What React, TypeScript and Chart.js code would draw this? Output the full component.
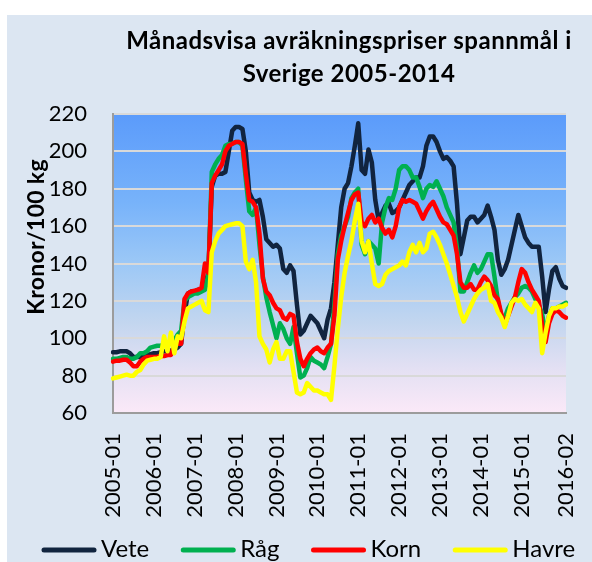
import React, { useEffect, useRef } from "react";
import { Chart, registerables } from "chart.js";

Chart.register(...registerables);

const years = [2005, 2006, 2007, 2008, 2009, 2010, 2011, 2012, 2013, 2014, 2015, 2016];
const months = ["01", "02", "03", "04", "05", "06", "07", "08", "09", "10", "11", "12"];
const labels: string[] = [];
years.forEach((y) => {
  months.forEach((m) => {
    if (y === 2016 && m > "02") return;
    labels.push(`${y}-${m}`);
  });
});

const chartTitle = ["Månadsvisa avräkningspriser spannmål i", "Sverige 2005-2014"];
const yAxisTitle = "Kronor/100 kg";
const yMin = 60;
const yMax = 220;
const yStep = 20;

const seriesNames = ["Vete", "Råg", "Korn", "Havre"];
const seriesColors = ["#11243f", "#00b050", "#ff0000", "#ffff00"];

const vete = [
  92.5, 92.5, 93, 93, 93, 92, 90, 90, 90, 90.5, 91, 91.5,
  92, 92, 92.5, 93, 93, 93.5, 94, 95, 97, 113, 124, 125,
  125, 126, 126, 128, 135, 181, 187, 188, 188, 189, 200, 211,
  213, 213, 212, 200, 178, 174, 173, 174, 165, 153, 151, 149,
  150, 148, 137, 135, 139, 136, 118, 102, 104, 108, 112, 110,
  108, 104, 100, 110, 116, 130, 150, 170, 180, 183, 192, 203,
  215, 190, 188, 201, 194, 174, 163, 167, 171, 172, 167, 168,
  170, 174, 178, 182, 184, 186, 186, 192, 203, 208, 208, 205,
  200, 196, 197, 195, 192, 172, 145, 154, 163, 165, 165, 162,
  164, 166, 171, 165, 158, 142, 134, 137, 142, 150, 158, 166,
  160, 154, 151, 149, 149, 149, 133, 114, 126, 136, 138, 132,
  128, 127,
];

const rag = [
  89, 89, 89.5, 90, 90, 89, 89, 90, 92, 92, 93, 95,
  95.5, 96, 96, 96.5, 97, 97, 99, 102, 104, 120, 122, 123,
  124, 124, 125, 126, 134, 189, 193, 196, 198, 203, 204, 204,
  205, 205, 203, 185, 168, 166, 170, 150, 133, 122, 114, 107,
  100, 108, 105, 100, 97, 106, 92, 79, 80, 84, 90, 88,
  87, 86, 84, 90, 97, 118, 145, 155, 160, 165, 175, 178,
  180, 150, 145, 152, 150, 148, 140, 162, 170, 175, 174, 180,
  190, 192, 192, 190, 186, 186, 181, 175, 180, 182, 181, 184,
  180, 176, 170, 166, 162, 148, 125, 125, 130, 135, 139, 135,
  137, 141, 145, 145, 133, 120, 112, 111, 116, 119, 122, 124,
  127, 128, 127, 125, 121, 118, 113, 102, 112, 116, 116, 117,
  118, 119,
];

const korn = [
  87.5, 88, 88, 88.5, 88.5, 87, 85, 85, 87.5, 89, 90, 90,
  90, 90, 90.5, 90.5, 91, 91, 96, 97, 97, 121, 124, 125,
  125.5, 126, 127, 140, 135, 183, 187, 190, 193, 200, 203, 204,
  205, 205, 204, 188, 174, 173, 170, 156, 132, 125, 123, 119,
  116, 115, 111, 110, 113, 112, 98, 89, 85, 89, 92, 94,
  95, 93, 92, 95, 97, 112, 142, 152, 160, 167, 174, 177,
  178, 162, 160, 164, 166, 162, 164, 159, 156, 158, 154, 160,
  170, 174, 173, 174, 173, 172, 168, 164, 168, 171, 173, 169,
  165, 162, 161, 158, 155, 145, 130, 127, 127, 129, 126, 126,
  130, 133, 131, 128, 123, 121, 113, 107, 112, 117, 122, 130,
  137, 135, 130, 126, 123, 120, 107, 98, 108, 113, 115, 114,
  112, 111,
];

const havre = [
  78.5, 79, 79.5, 80, 80.5, 80, 80, 82, 83, 86, 88, 88.5,
  89, 89, 90, 101, 93, 103, 92, 101, 100, 109, 116, 117,
  118, 119, 120, 115, 114, 146, 152, 156, 158, 160, 160.5, 161,
  161.5, 161.5, 160, 141, 137, 142, 130, 101, 97, 94, 87, 94,
  98, 89, 89, 93, 93, 82, 71, 70, 71, 76, 74, 72,
  72, 71, 70, 70, 67, 85, 105, 122, 135, 144, 152, 163,
  172, 152, 146, 152, 140, 129, 128, 129, 134, 136, 137, 138,
  139, 141, 139, 146, 150, 146, 151, 146, 148, 156, 157, 154,
  150, 145, 140, 134, 128, 122, 114, 109, 113, 117, 121, 124,
  126, 127, 129, 120, 119, 114, 111, 106, 112, 119, 121, 120,
  121, 118, 116, 114, 119, 116, 92, 103, 112, 116, 116, 117,
  117, 118,
];

const seriesData = [vete, rag, korn, havre];

const FONT = "Lato, 'Open Sans', 'DejaVu Sans', sans-serif";

const decorPlugin = {
  id: "decor",
  beforeDraw(chart: any) {
    const { ctx, chartArea: a, width, height } = chart;
    ctx.save();
    ctx.fillStyle = "#ffffff";
    ctx.fillRect(0, 0, width, height);
    ctx.fillStyle = "#dce6f2";
    ctx.fillRect(7, 15, width - 7, height - 15);
    const g = ctx.createLinearGradient(0, a.top, 0, a.bottom);
    g.addColorStop(0, "#5b9bfb");
    g.addColorStop(0.3, "#78b3fa");
    g.addColorStop(0.5, "#9cc8f6");
    g.addColorStop(0.7, "#c3d6ef");
    g.addColorStop(0.85, "#e3e0f3");
    g.addColorStop(1, "#fbe9f8");
    ctx.fillStyle = g;
    ctx.fillRect(a.left, a.top, a.right - a.left, a.bottom - a.top);
    ctx.restore();
  },
  afterDraw(chart: any) {
    const { ctx } = chart;
    ctx.save();
    // title
    ctx.fillStyle = "#000";
    ctx.font = `bold 24px ${FONT}`;
    ctx.letterSpacing = "0.5px";
    ctx.textAlign = "center";
    ctx.textBaseline = "alphabetic";
    ctx.fillText(chartTitle[0], 349, 49);
    ctx.fillText(chartTitle[1], 349, 82);
    // y title
    ctx.save();
    ctx.font = `bold 23px ${FONT}`;
    ctx.letterSpacing = "0.3px";
    ctx.translate(37, 237);
    ctx.rotate(-Math.PI / 2);
    ctx.textAlign = "center";
    ctx.textBaseline = "middle";
    ctx.fillText(yAxisTitle, 0, 0);
    ctx.restore();
    // legend
    ctx.letterSpacing = "0px";
    ctx.font = `24px ${FONT}`;
    ctx.textAlign = "left";
    ctx.textBaseline = "middle";
    const lineLen = 54;
    const gapText = 5;
    const gapItem = 32;
    let x = 42;
    const y = 550;
    seriesNames.forEach((name, i) => {
      ctx.strokeStyle = seriesColors[i];
      ctx.lineWidth = 5;
      ctx.lineCap = "round";
      ctx.beginPath();
      ctx.moveTo(x + 2, y);
      ctx.lineTo(x + lineLen - 2, y);
      ctx.stroke();
      ctx.fillStyle = "#000";
      ctx.fillText(name, x + lineLen + gapText, y - 1);
      x += lineLen + gapText + ctx.measureText(name).width + gapItem;
    });
    ctx.restore();
  },
};

export default function App() {
  const ref = useRef<HTMLCanvasElement | null>(null);
  useEffect(() => {
    if (!ref.current) return;
    const chart = new Chart(ref.current, {
      type: "line",
      data: {
        labels,
        datasets: seriesNames.map((name, i) => ({
          label: name,
          data: seriesData[i],
          borderColor: seriesColors[i],
          backgroundColor: seriesColors[i],
          borderWidth: 4.5,
          pointRadius: 0,
          tension: 0,
          fill: false,
          order: 4 - i,
          borderJoinStyle: "round" as const,
          borderCapStyle: "round" as const,
        })),
      },
      options: {
        responsive: false,
        animation: false,
        devicePixelRatio: 1,
        layout: { padding: { top: 114, right: 26, left: 0, bottom: 0 } },
        plugins: {
          legend: { display: false },
          title: { display: false },
          tooltip: { enabled: false },
        },
        scales: {
          x: {
            type: "category",
            offset: false,
            grid: { display: false, drawTicks: false },
            border: { display: true, color: "#9c9c9c", width: 2 },
            ticks: {
              autoSkip: false,
              minRotation: 90,
              maxRotation: 90,
              padding: 20,
              color: "#000",
              font: { family: FONT, size: 22 },
              callback: (_v: any, i: number) =>
                (i % 12 === 0 && i !== 132) || i === 133 ? labels[i] : "",
            },
            afterFit: (s: any) => {
              s.height = 149;
              s.paddingLeft = 0;
              s.paddingRight = 0;
            },
          },
          y: {
            min: yMin,
            max: yMax,
            grid: { color: "#d9d9d9", lineWidth: 2, drawTicks: false },
            border: { display: true, color: "#9c9c9c", width: 2 },
            ticks: {
              stepSize: yStep,
              padding: 26,
              color: "#000",
              font: { family: FONT, size: 22 },
            },
            afterFit: (s: any) => {
              s.width = 113;
              s.paddingTop = 0;
              s.paddingBottom = 0;
            },
          },
        },
      },
      plugins: [decorPlugin],
    });
    return () => chart.destroy();
  }, []);
  return (
    <div style={{ position: "fixed", left: 0, top: 0, width: 592, height: 562 }}>
      <canvas ref={ref} width={592} height={562} style={{ display: "block" }} />
    </div>
  );
}
